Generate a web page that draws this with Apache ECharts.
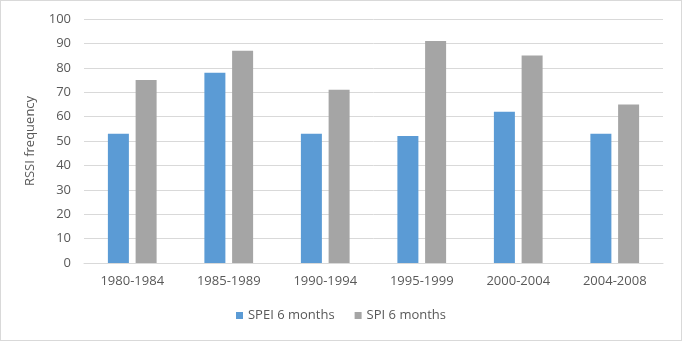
<!DOCTYPE html>
<html>
<head>
<meta charset="utf-8">
<script src="https://cdn.jsdelivr.net/npm/echarts@6/dist/echarts.min.js"></script>
<style>
  html, body { margin: 0; padding: 0; background: #fff; }
  #chart { width: 680px; height: 339px; border: 1px solid #d9d9d9; }
</style>
</head>
<body>
<div id="chart"></div>
<script>
const categories = ['1980-1984', '1985-1989', '1990-1994', '1995-1999', '2000-2004', '2004-2008']
const speiValues = [53, 78, 53, 52, 62, 53]
const spiValues = [75, 87, 71, 91, 85, 65]

const chart = echarts.init(document.getElementById('chart'))
const font = 'Open Sans, Liberation Sans, sans-serif'

chart.setOption({
  backgroundColor: '#ffffff',
  animation: false,
  grid: {
    left: 83,
    right: 18,
    top: 18,
    bottom: 77
  },
  legend: {
    bottom: 13,
    left: 'center',
    icon: 'rect',
    itemWidth: 7,
    itemHeight: 7,
    itemGap: 20,
    textStyle: { color: '#595959', fontSize: 13, fontFamily: font },
    data: ['SPEI 6 months', 'SPI 6 months']
  },
  xAxis: {
    type: 'category',
    data: categories,
    axisLine: { lineStyle: { color: '#d9d9d9' } },
    axisTick: { show: false },
    axisLabel: { color: '#595959', fontSize: 13, fontFamily: font, margin: 12 }
  },
  yAxis: {
    type: 'value',
    name: 'RSSI frequency',
    nameLocation: 'middle',
    nameGap: 47,
    nameTextStyle: { color: '#595959', fontSize: 13, fontFamily: font },
    min: 0,
    max: 100,
    interval: 10,
    axisLine: { show: false },
    axisTick: { show: false },
    axisLabel: { color: '#595959', fontSize: 13, fontFamily: font, margin: 13 },
    splitLine: { lineStyle: { color: '#d9d9d9' } }
  },
  series: [
    {
      name: 'SPEI 6 months',
      type: 'bar',
      barWidth: 21,
      barGap: '32%',
      itemStyle: { color: '#5b9bd5' },
      data: speiValues
    },
    {
      name: 'SPI 6 months',
      type: 'bar',
      barWidth: 21,
      itemStyle: { color: '#a5a5a5' },
      data: spiValues
    }
  ]
})
</script>
</body>
</html>
